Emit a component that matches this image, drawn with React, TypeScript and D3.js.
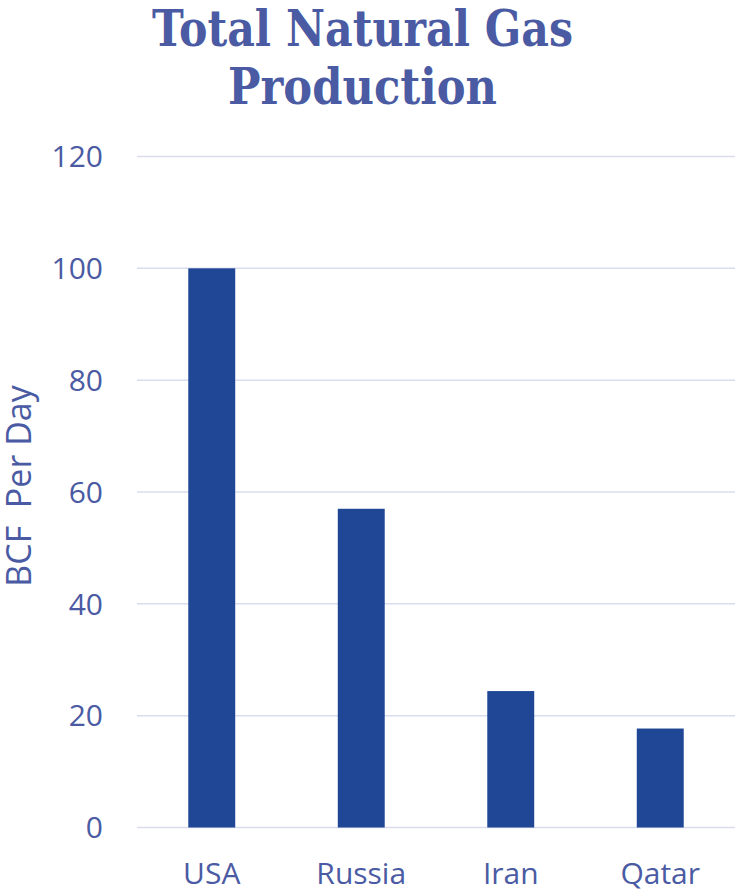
import React from "react";
import * as d3 from "d3";

const categories = ["USA", "Russia", "Iran", "Qatar"];
const values = [100, 57, 24.4, 17.7];
const yTicks = [0, 20, 40, 60, 80, 100, 120];
const titleLines = ["Total Natural Gas", "Production"];
const titleWidths = [421, 269];
const yTitle = "BCF  Per Day";

const W = 735;
const H = 889;
const textColor = "#4a5ba3";
const barColor = "#1f4796";
const gridColor = "#d9dcee";

export default function App() {
  const x = d3
    .scaleBand<string>()
    .domain(categories)
    .range([137, 735])
    .paddingInner(0.686)
    .paddingOuter(0.343);
  const y = d3.scaleLinear().domain([0, 120]).range([827.5, 156.5]);

  return (
    <svg
      width={W}
      height={H}
      style={{ position: "absolute", left: 0, top: 0 }}
    >
      <rect width={W} height={H} fill="#ffffff" />
      {titleLines.map((t, i) => (
        <text
          key={t}
          x={362.5}
          y={46 + i * 58}
          textAnchor="middle"
          fontFamily="DejaVu Serif"
          fontWeight="bold"
          fontSize={50}
          textLength={titleWidths[i]}
          lengthAdjust="spacingAndGlyphs"
          fill={textColor}
        >
          {t}
        </text>
      ))}
      {yTicks.map((t) => (
        <g key={t}>
          <line
            x1={137}
            x2={735}
            y1={y(t)}
            y2={y(t)}
            stroke={gridColor}
            strokeWidth={1.5}
          />
          <text
            x={103}
            y={y(t)}
            dy="0.36em"
            textAnchor="end"
            fontFamily="Open Sans"
            fontSize={30}
            fill={textColor}
          >
            {t}
          </text>
        </g>
      ))}
      {categories.map((c, i) => (
        <rect
          key={c}
          x={x(c)}
          y={y(values[i])}
          width={x.bandwidth()}
          height={y(0) - y(values[i])}
          fill={barColor}
        />
      ))}
      {categories.map((c) => (
        <text
          key={c}
          x={(x(c) as number) + x.bandwidth() / 2}
          y={884}
          textAnchor="middle"
          fontFamily="Open Sans"
          fontSize={30}
          fill={textColor}
        >
          {c}
        </text>
      ))}
      <text
        transform={`translate(31, 486) rotate(-90)`}
        textAnchor="middle"
        fontFamily="Open Sans"
        fontSize={34}
        fill={textColor}
        style={{ whiteSpace: "pre" }}
      >
        {yTitle}
      </text>
    </svg>
  );
}
